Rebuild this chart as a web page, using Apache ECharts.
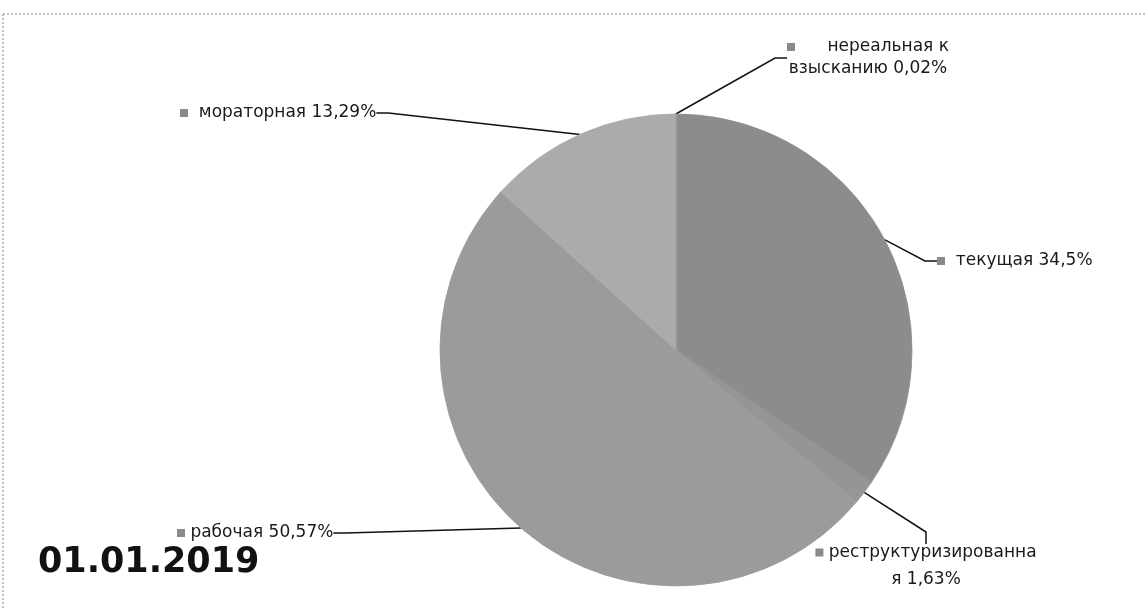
<!DOCTYPE html>
<html>
<head>
<meta charset="utf-8">
<script src="https://cdn.jsdelivr.net/npm/echarts@6/dist/echarts.min.js"></script>
<style>
    html, body { margin: 0; padding: 0; background: #fff; }
    #chart { width: 1147px; height: 609px; }
</style>
</head>
<body>
<div id="chart"></div>
<script>
// данные
const names = ['текущая', 'реструктуризированная', 'рабочая', 'мораторная', 'нереальная к взысканию']
const values = [34.5, 1.63, 50.57, 13.29, 0.02]
// подписи как в оригинале (с переносами)
const labelTexts = ['текущая', 'реструктуризированна\nя', 'рабочая', 'мораторная', 'нереальная к\nвзысканию']
const dateText = '01.01.2019'

;(function () {
    const el = document.getElementById('chart')
    const chart = echarts.init(el)

    const palette = ['#8c8c8c', '#959595', '#9b9b9b', '#ababab', '#a2a2a2']

    // где стоят подписи: [x, y, align, verticalAlign]
    const labelPlaces = [
        [937, 261, 'left', 'middle'],
        [926, 539, 'center', 'top'],
        [177, 533, 'left', 'middle'],
        [180, 113, 'left', 'middle'],
        [868, 36, 'center', 'top']
    ]
    //межстрочный интервал для двухстрочных подписей
    const lineHeights = [24, 27, 24, 24, 22]
    //пробелы между квадратиком и текстом
    const gaps = ['  ', ' ', ' ', '  ', '      ']

    const fmt = v => String(v).replace('.', ',')

    const option = {
        animation: false,
        color: palette,
        title: {
            text: dateText,
            left: 33,
            top: 540,
            textStyle: {
                fontFamily: 'DejaVu Sans',
                fontWeight: 'bold',
                fontSize: 35,
                color: '#111'
            }
        },
        graphic: [
            {
                type: 'line',
                shape: { x1: 3, y1: 14, x2: 1147, y2: 14 },
                style: { stroke: '#888', lineWidth: 1, lineDash: [2, 2] }
            },
            {
                type: 'line',
                shape: { x1: 3, y1: 14, x2: 3, y2: 609 },
                style: { stroke: '#888', lineWidth: 1, lineDash: [2, 2] }
            }
        ],
        series: [
            {
                type: 'pie',
                center: [676, 350],
                radius: 236,
                startAngle: 90,
                clockwise: true,
                avoidLabelOverlap: false,
                emphasis: { disabled: true },
                label: {
                    show: true,
                    color: '#1a1a1a',
                    fontFamily: 'DejaVu Sans',
                    fontSize: 17,
                    formatter: function (p) {
                        const i = p.dataIndex
                        const lines = labelTexts[i].split('\n')
                        const last = lines.length - 1
                        lines[last] = lines[last] + ' ' + fmt(p.value) + '%'
                        let s = '{sq|}' + gaps[i] + '{t|' + lines[0] + '}'
                        if (lines.length > 1) {
                            s += '\n{t|' + lines.slice(1).join('\n') + '}'
                        }
                        return s
                    },
                    rich: {
                        sq: { width: 8, height: 8, backgroundColor: '#8a8a8a' },
                        t: { fontFamily: 'DejaVu Sans', fontSize: 17, color: '#1a1a1a', lineHeight: 24 }
                    }
                },
                labelLine: {
                    show: true,
                    length: 10,
                    length2: 12,
                    lineStyle: { color: '#111', width: 1.5 }
                },
                labelLayout: function (params) {
                    const pl = labelPlaces[params.dataIndex]
                    return { x: pl[0], y: pl[1], align: pl[2], verticalAlign: pl[3] }
                },
                data: names.map((n, i) => ({
                    name: n,
                    value: values[i],
                    itemStyle: { borderColor: palette[i], borderWidth: 0.8 },
                    label: {
                        rich: {
                            t: { fontFamily: 'DejaVu Sans', fontSize: 17, color: '#1a1a1a', lineHeight: lineHeights[i] }
                        }
                    }
                }))
            }
        ]
    }

    chart.setOption(option)
    window.addEventListener('resize', () => {
        chart.resize()
    })
})()
</script>
</body>
</html>
